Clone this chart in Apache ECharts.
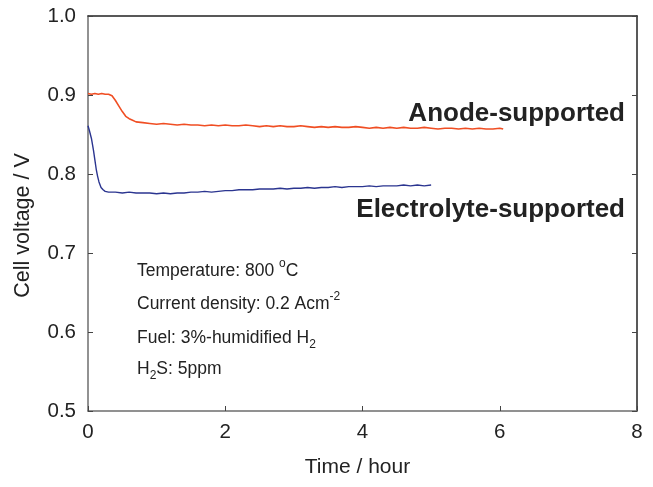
<!DOCTYPE html>
<html>
<head>
<meta charset="utf-8">
<script src="https://cdn.jsdelivr.net/npm/echarts@6/dist/echarts.min.js"></script>
<style>
  html, body { margin: 0; padding: 0; background: #fff; }
  #chart { width: 653px; height: 487px; }
</style>
</head>
<body>
<div id="chart"></div>
<script>
// Cell voltage over time under 5 ppm H2S, two cell designs
const anodeTime = [0, 0.05, 0.1, 0.15, 0.2, 0.25, 0.3, 0.35, 0.4, 0.45, 0.5, 0.55, 0.6, 0.65, 0.7, 0.8, 0.9, 1.0,
  1.1, 1.2, 1.3, 1.4, 1.5, 1.6, 1.7, 1.8, 1.9, 2.0, 2.1, 2.2, 2.3, 2.4, 2.5, 2.6, 2.7, 2.8, 2.9, 3.0,
  3.1, 3.2, 3.3, 3.4, 3.5, 3.6, 3.7, 3.8, 3.9, 4.0, 4.1, 4.2, 4.3, 4.4, 4.5, 4.6, 4.7, 4.8, 4.9, 5.0,
  5.1, 5.2, 5.3, 5.4, 5.5, 5.6, 5.7, 5.8, 5.9, 6.0, 6.05];
const anodeVoltage = [0.902, 0.901, 0.902, 0.901, 0.902, 0.901, 0.901, 0.899, 0.893, 0.886, 0.879, 0.873, 0.870, 0.868, 0.866, 0.865, 0.864, 0.863,
  0.864, 0.863, 0.862, 0.863, 0.862, 0.862, 0.861, 0.862, 0.861, 0.862, 0.861, 0.861, 0.862, 0.861, 0.860, 0.861, 0.860, 0.861, 0.860, 0.860,
  0.861, 0.860, 0.859, 0.860, 0.859, 0.860, 0.859, 0.859, 0.860, 0.859, 0.858, 0.859, 0.858, 0.859, 0.858, 0.859, 0.858, 0.858, 0.859, 0.858,
  0.857, 0.858, 0.858, 0.857, 0.858, 0.857, 0.858, 0.857, 0.857, 0.858, 0.857];

const electrolyteTime = [0, 0.02, 0.05, 0.08, 0.1, 0.12, 0.14, 0.16, 0.19, 0.22, 0.25, 0.3, 0.4, 0.5, 0.6, 0.7, 0.8, 0.9, 1.0,
  1.1, 1.2, 1.3, 1.4, 1.5, 1.6, 1.7, 1.8, 1.9, 2.0, 2.1, 2.2, 2.3, 2.4, 2.5, 2.6, 2.7, 2.8, 2.9, 3.0,
  3.1, 3.2, 3.3, 3.4, 3.5, 3.6, 3.7, 3.8, 3.9, 4.0, 4.1, 4.2, 4.3, 4.4, 4.5, 4.6, 4.7, 4.8, 4.9, 5.0];
const electrolyteVoltage = [0.861, 0.855, 0.845, 0.830, 0.818, 0.806, 0.797, 0.790, 0.783, 0.780, 0.778, 0.777, 0.777, 0.776, 0.777, 0.776, 0.776, 0.776, 0.775,
  0.776, 0.775, 0.776, 0.776, 0.777, 0.777, 0.778, 0.777, 0.778, 0.779, 0.779, 0.780, 0.780, 0.780, 0.781, 0.781, 0.781, 0.782, 0.781, 0.782,
  0.782, 0.783, 0.782, 0.783, 0.783, 0.784, 0.783, 0.784, 0.784, 0.784, 0.785, 0.784, 0.785, 0.785, 0.785, 0.786, 0.785, 0.786, 0.785, 0.786];

const seriesNames = ['Anode-supported', 'Electrolyte-supported'];
const seriesColors = ['#f04e23', '#2b3590'];
const conditionLines = [
  'Temperature: 800 {sup|o}C',
  'Current density: 0.2 Acm{sup|-2}',
  'Fuel: 3%-humidified H{sub|2}',
  'H{sub|2}S: 5ppm'
];

const FONT = '"Liberation Sans", Arial, Helvetica, sans-serif';
const TEXT = '#222';

function pairs(xs, ys) { return xs.map((x, i) => [x, ys[i]]); }

const chart = echarts.init(document.getElementById('chart'), null, { renderer: 'canvas' });

const richStyle = {
  sup: { fontSize: 12, fontFamily: FONT, fill: TEXT, color: TEXT, verticalAlign: 'top', lineHeight: 16 },
  sub: { fontSize: 12, fontFamily: FONT, fill: TEXT, color: TEXT, verticalAlign: 'bottom', lineHeight: 16 }
};

const option = {
  animation: false,
  backgroundColor: '#fff',
  grid: { left: 88, right: 16, top: 16, bottom: 76 },
  xAxis: [
    {
      type: 'value', min: 0, max: 8, interval: 2, position: 'bottom',
      name: 'Time / hour', nameLocation: 'middle', nameGap: 44,
      nameTextStyle: { fontFamily: FONT, fontSize: 21, color: TEXT, padding: [2, 10, 0, 0] },
      axisLine: { lineStyle: { color: '#6e6e6e', width: 1.5 } },
      axisTick: { inside: true, length: 5, lineStyle: { color: '#444', width: 1 } },
      axisLabel: { fontFamily: FONT, fontSize: 20.5, color: TEXT, margin: 11 },
      splitLine: { show: false }
    },
    {
      type: 'value', min: 0, max: 8, interval: 2, position: 'top',
      axisLine: { show: true, onZero: false, lineStyle: { color: '#222', width: 1.5 } },
      axisTick: { show: false }, axisLabel: { show: false }, splitLine: { show: false }
    }
  ],
  yAxis: [
    {
      type: 'value', min: 0.5, max: 1.0, interval: 0.1, position: 'left',
      name: 'Cell voltage / V', nameLocation: 'middle', nameGap: 54,
      nameTextStyle: { fontFamily: FONT, fontSize: 21.5, color: TEXT, padding: [0, 24, 0, 0] },
      axisLine: { show: true, lineStyle: { color: '#6e6e6e', width: 1.5 } },
      axisTick: { show: true, inside: true, length: 5, lineStyle: { color: '#444', width: 1 } },
      axisLabel: { fontFamily: FONT, fontSize: 20.5, color: TEXT, margin: 12, formatter: v => v.toFixed(1) },
      splitLine: { show: false }
    },
    {
      type: 'value', min: 0.5, max: 1.0, interval: 0.1, position: 'right',
      axisLine: { show: true, onZero: false, lineStyle: { color: '#222', width: 1.5 } },
      axisTick: { show: true, inside: true, length: 5, lineStyle: { color: '#444', width: 1 } },
      axisLabel: { show: false }, splitLine: { show: false }
    }
  ],
  series: [
    {
      name: seriesNames[0], type: 'line', data: pairs(anodeTime, anodeVoltage),
      showSymbol: false, lineStyle: { color: seriesColors[0], width: 1.6 }, z: 3
    },
    {
      name: seriesNames[1], type: 'line', data: pairs(electrolyteTime, electrolyteVoltage),
      showSymbol: false, lineStyle: { color: seriesColors[1], width: 1.4 }, z: 3
    }
  ],
  graphic: [
    {
      type: 'text', right: 28, top: 101,
      style: { text: seriesNames[0], fontFamily: FONT, fontSize: 26, fontWeight: 'bold', fill: TEXT }
    },
    {
      type: 'text', right: 28, top: 197,
      style: { text: seriesNames[1], fontFamily: FONT, fontSize: 26, fontWeight: 'bold', fill: TEXT }
    }
  ].concat(conditionLines.map((t, i) => ({
    type: 'text', left: 137, top: [258, 291, 325, 356][i],
    style: { text: t, fontFamily: FONT, fontSize: 17.5, fill: TEXT, rich: richStyle, lineHeight: 26 }
  })))
};

chart.setOption(option);
</script>
</body>
</html>
